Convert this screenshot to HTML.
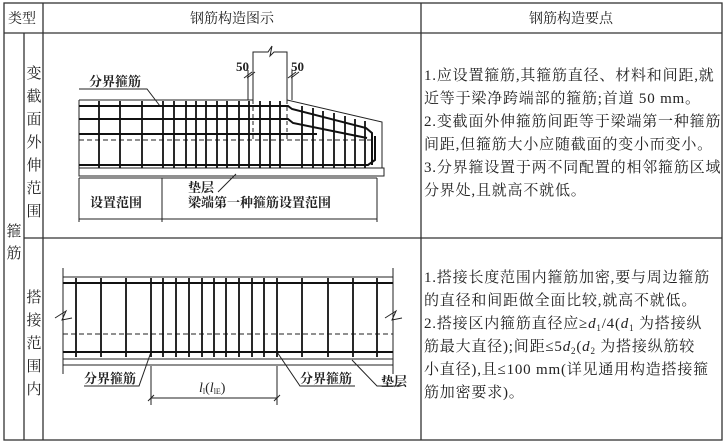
<!DOCTYPE html>
<html><head><meta charset="utf-8"><style>
html,body{margin:0;padding:0;background:#fff;}
svg{display:block;}
text{font-family:"Liberation Serif","Noto Serif CJK SC","Noto Sans CJK SC",serif;fill:#222;}
.t{font-size:15px;}
.r{letter-spacing:0.8px;}
.l{font-size:13px;font-weight:bold;}
</style></head><body>
<svg width="727" height="445" viewBox="0 0 727 445" xmlns="http://www.w3.org/2000/svg">
<g stroke="#333" stroke-width="1.3" fill="none">
<rect x="4" y="3" width="718" height="437"/>
<line x1="4" y1="33" x2="722" y2="33"/>
<line x1="24" y1="33" x2="24" y2="440"/>
<line x1="43" y1="3" x2="43" y2="440"/>
<line x1="421" y1="3" x2="421" y2="440"/>
<line x1="24" y1="238" x2="722" y2="238"/>
</g>
<g class="t">
<text x="8" y="23" style="font-size:14px">类型</text>
<text x="232" y="23" text-anchor="middle" style="font-size:14px">钢筋构造图示</text>
<text x="571" y="23" text-anchor="middle" style="font-size:14px">钢筋构造要点</text>
</g>
<g class="t" text-anchor="middle">
<text x="34" y="78">变</text><text x="34" y="101">截</text><text x="34" y="124">面</text><text x="34" y="147">外</text><text x="34" y="170">伸</text><text x="34" y="193">范</text><text x="34" y="216">围</text>
<text x="14" y="236">箍</text><text x="14" y="258">筋</text>
<text x="34" y="302">搭</text><text x="34" y="325">接</text><text x="34" y="348">范</text><text x="34" y="371">围</text><text x="34" y="394">内</text>
</g>
<g class="t r">
<text x="424" y="80">1.应设置箍筋,其箍筋直径、材料和间距,就</text>
<text x="424" y="103">近等于梁净跨端部的箍筋;首道 50 mm。</text>
<text x="424" y="126">2.变截面外伸箍筋间距等于梁端第一种箍筋</text>
<text x="424" y="149">间距,但箍筋大小应随截面的变小而变小。</text>
<text x="424" y="172">3.分界箍设置于两不同配置的相邻箍筋区域</text>
<text x="424" y="195">分界处,且就高不就低。</text>
<text x="424" y="282">1.搭接长度范围内箍筋加密,要与周边箍筋</text>
<text x="424" y="305">的直径和间距做全面比较,就高不就低。</text>
<text x="424" y="328">2.搭接区内箍筋直径应≥<tspan font-style="italic">d</tspan><tspan font-size="9" dy="3">1</tspan><tspan dy="-3">/4(</tspan><tspan font-style="italic">d</tspan><tspan font-size="9" dy="3">1</tspan><tspan dy="-3"> 为搭接纵</tspan></text>
<text x="424" y="351">筋最大直径);间距≤5<tspan font-style="italic">d</tspan><tspan font-size="9" dy="3">2</tspan><tspan dy="-3">(</tspan><tspan font-style="italic">d</tspan><tspan font-size="9" dy="3">2</tspan><tspan dy="-3"> 为搭接纵筋较</tspan></text>
<text x="424" y="374">小直径),且≤100 mm(详见通用构造搭接箍</text>
<text x="424" y="397">筋加密要求)。</text>
</g>

<!-- top diagram -->
<g stroke="#222" fill="none" stroke-width="1">
<polyline points="79,100 253,100 253,52 268,52 272,46 270,56 274,52 287,52 287,100 382,122 382,168"/>
<line x1="79" y1="100" x2="79" y2="168"/>
<rect x="79" y="168" width="305" height="8"/>
<line x1="248" y1="70" x2="248" y2="100"/><line x1="292" y1="70" x2="292" y2="100"/>
<line x1="244" y1="78" x2="252" y2="72"/><line x1="247" y1="78" x2="255" y2="72"/>
<line x1="288" y1="78" x2="296" y2="72"/><line x1="291" y1="78" x2="299" y2="72"/>
<line x1="253" y1="100" x2="253" y2="140" stroke-dasharray="4,3"/>
<line x1="287" y1="100" x2="287" y2="140" stroke-dasharray="4,3"/>
<line x1="79" y1="140" x2="372" y2="140" stroke-dasharray="5,3"/>
<line x1="79" y1="178" x2="79" y2="222"/><line x1="162" y1="178" x2="162" y2="222"/><line x1="377" y1="178" x2="377" y2="222"/>
<line x1="79" y1="219" x2="377" y2="219"/>
<line x1="79" y1="178" x2="377" y2="178"/>
<polyline points="79,89 147,89 160,106"/>
<line x1="218" y1="192" x2="236" y2="174"/>
</g>
<g stroke="#111" fill="none" stroke-width="2">
<polyline points="79,106 288,106 292,109 366,128 372,133 372,165"/>
<polyline points="79,119 288,119 293,123 367,138"/>
<line x1="79" y1="134" x2="317" y2="134"/>
<polyline points="79,165 368,165 375,160 375,136"/>
</g>
<g stroke="#111" stroke-width="1.8">
<line x1="99" y1="101" x2="99" y2="168"/><line x1="120" y1="101" x2="120" y2="168"/><line x1="142" y1="101" x2="142" y2="168"/><line x1="163" y1="101" x2="163" y2="168"/><line x1="174" y1="101" x2="174" y2="168"/><line x1="186" y1="101" x2="186" y2="168"/><line x1="196" y1="101" x2="196" y2="168"/><line x1="206" y1="101" x2="206" y2="168"/><line x1="217" y1="101" x2="217" y2="168"/><line x1="227" y1="101" x2="227" y2="168"/><line x1="239" y1="101" x2="239" y2="168"/><line x1="249" y1="101" x2="249" y2="168"/><line x1="260" y1="101" x2="260" y2="168"/><line x1="270" y1="101" x2="270" y2="168"/><line x1="280" y1="101" x2="280" y2="168"/>
<line x1="302" y1="106" x2="302" y2="168"/><line x1="313" y1="108" x2="313" y2="168"/><line x1="323" y1="111" x2="323" y2="168"/><line x1="334" y1="113" x2="334" y2="168"/><line x1="345" y1="116" x2="345" y2="168"/><line x1="355" y1="119" x2="355" y2="168"/><line x1="365" y1="121" x2="365" y2="168"/>
</g>
<g class="l">
<text x="236" y="71">50</text><text x="291" y="71">50</text>
<text x="89" y="86">分界箍筋</text>
<text x="188" y="192">垫层</text>
<text x="90" y="207">设置范围</text>
<text x="188" y="207">梁端第一种箍筋设置范围</text>
</g>

<!-- bottom diagram -->
<g stroke="#222" fill="none" stroke-width="1">
<line x1="63" y1="268" x2="63" y2="374"/><line x1="393" y1="268" x2="393" y2="374"/>
<line x1="63" y1="277" x2="393" y2="277"/>
<line x1="63" y1="359" x2="393" y2="359"/><line x1="63" y1="365" x2="393" y2="365"/>
<line x1="63" y1="334" x2="393" y2="334" stroke-dasharray="5,3"/>
<polyline points="55,318 66,311 62,320 72,318"/>
<polyline points="385,318 396,311 392,320 402,318"/>
<polyline points="84,386 139,386 151,352"/>
<polyline points="277,352 300,386 355,386"/>
<polyline points="352,360 377,386 400,386"/>
<line x1="151" y1="366" x2="151" y2="405"/><line x1="277" y1="366" x2="277" y2="405"/>
<line x1="151" y1="398" x2="277" y2="398"/>
<line x1="148" y1="401" x2="154" y2="395"/><line x1="274" y1="401" x2="280" y2="395"/>
</g>
<g stroke="#111" stroke-width="2">
<line x1="63" y1="283" x2="393" y2="283"/><line x1="63" y1="352" x2="393" y2="352"/>
</g>
<g stroke="#111" stroke-width="1.8">
<line x1="76" y1="278" x2="76" y2="357"/><line x1="101" y1="278" x2="101" y2="357"/><line x1="126" y1="278" x2="126" y2="357"/><line x1="151" y1="278" x2="151" y2="357"/><line x1="163" y1="278" x2="163" y2="357"/><line x1="176" y1="278" x2="176" y2="357"/><line x1="189" y1="278" x2="189" y2="357"/><line x1="202" y1="278" x2="202" y2="357"/><line x1="214" y1="278" x2="214" y2="357"/><line x1="226" y1="278" x2="226" y2="357"/><line x1="239" y1="278" x2="239" y2="357"/><line x1="252" y1="278" x2="252" y2="357"/><line x1="264" y1="278" x2="264" y2="357"/><line x1="277" y1="278" x2="277" y2="357"/><line x1="302" y1="278" x2="302" y2="357"/><line x1="328" y1="278" x2="328" y2="357"/><line x1="353" y1="278" x2="353" y2="357"/><line x1="377" y1="278" x2="377" y2="357"/>
</g>
<g class="l">
<text x="84" y="383">分界箍筋</text>
<text x="300" y="383">分界箍筋</text>
<text x="381" y="386">垫层</text>
<text x="199" y="392" style="font-size:14px;font-weight:normal"><tspan font-style="italic">l</tspan><tspan font-size="8" dy="2">l</tspan><tspan dy="-2">(</tspan><tspan font-style="italic">l</tspan><tspan font-size="8" dy="2">lE</tspan><tspan dy="-2">)</tspan></text>
</g>
</svg>
</body></html>
